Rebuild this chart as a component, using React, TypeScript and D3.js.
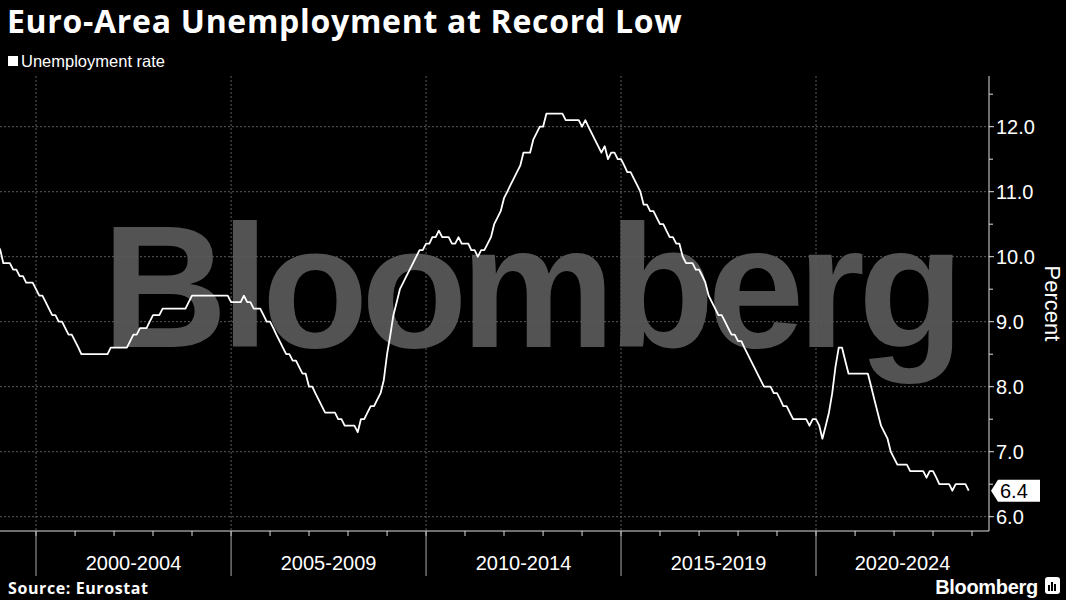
import React from "react";
import * as d3 from "d3";

// Monthly euro-area unemployment rate (%), starting January 1999
const seriesStartYear = 1999;
const unemploymentRate: number[] = [
  10.2, 10.1, 9.9, 9.9, 9.9, 9.8, 9.8, 9.7, 9.7, 9.6, 9.6, 9.6, // 1999
  9.5, 9.4, 9.4, 9.3, 9.2, 9.1, 9.1, 9.0, 9.0, 8.9, 8.8, 8.8, // 2000
  8.7, 8.6, 8.5, 8.5, 8.5, 8.5, 8.5, 8.5, 8.5, 8.5, 8.5, 8.6, // 2001
  8.6, 8.6, 8.6, 8.6, 8.6, 8.7, 8.8, 8.8, 8.9, 8.9, 8.9, 9.0, // 2002
  9.1, 9.1, 9.1, 9.2, 9.2, 9.2, 9.2, 9.2, 9.2, 9.2, 9.2, 9.3, // 2003
  9.4, 9.4, 9.4, 9.4, 9.4, 9.4, 9.4, 9.4, 9.4, 9.4, 9.4, 9.4, // 2004
  9.3, 9.3, 9.3, 9.3, 9.4, 9.3, 9.3, 9.2, 9.2, 9.2, 9.1, 9.0, // 2005
  9.0, 8.9, 8.8, 8.7, 8.6, 8.5, 8.5, 8.4, 8.4, 8.3, 8.2, 8.2, // 2006
  8.0, 8.0, 7.9, 7.8, 7.7, 7.6, 7.6, 7.6, 7.6, 7.5, 7.5, 7.4, // 2007
  7.4, 7.4, 7.4, 7.3, 7.5, 7.5, 7.6, 7.7, 7.7, 7.8, 7.9, 8.1, // 2008
  8.5, 8.8, 9.1, 9.3, 9.5, 9.6, 9.7, 9.8, 9.9, 10.0, 10.1, 10.1, // 2009
  10.2, 10.2, 10.3, 10.3, 10.4, 10.3, 10.3, 10.3, 10.2, 10.2, 10.3, 10.2, // 2010
  10.2, 10.2, 10.1, 10.1, 10.0, 10.1, 10.1, 10.2, 10.3, 10.5, 10.6, 10.7, // 2011
  10.9, 11.0, 11.1, 11.2, 11.3, 11.4, 11.6, 11.6, 11.6, 11.8, 11.9, 12.0, // 2012
  12.0, 12.2, 12.2, 12.2, 12.2, 12.2, 12.2, 12.1, 12.1, 12.1, 12.1, 12.1, // 2013
  12.0, 12.1, 12.0, 11.9, 11.8, 11.7, 11.6, 11.7, 11.5, 11.6, 11.6, 11.5, // 2014
  11.5, 11.4, 11.3, 11.3, 11.2, 11.1, 11.0, 10.8, 10.8, 10.7, 10.7, 10.6, // 2015
  10.5, 10.5, 10.4, 10.3, 10.3, 10.2, 10.2, 10.0, 9.9, 9.9, 9.9, 9.8, // 2016
  9.8, 9.7, 9.6, 9.4, 9.3, 9.2, 9.1, 9.1, 9.0, 8.9, 8.8, 8.8, // 2017
  8.7, 8.7, 8.6, 8.5, 8.4, 8.3, 8.2, 8.1, 8.0, 8.0, 8.0, 7.9, // 2018
  7.9, 7.8, 7.7, 7.7, 7.6, 7.5, 7.5, 7.5, 7.5, 7.5, 7.4, 7.5, // 2019
  7.5, 7.4, 7.2, 7.4, 7.6, 7.9, 8.3, 8.6, 8.6, 8.4, 8.2, 8.2, // 2020
  8.2, 8.2, 8.2, 8.2, 8.2, 8.0, 7.8, 7.6, 7.4, 7.3, 7.2, 7.0, // 2021
  6.9, 6.8, 6.8, 6.8, 6.8, 6.7, 6.7, 6.7, 6.7, 6.7, 6.6, 6.7, // 2022
  6.7, 6.6, 6.5, 6.5, 6.5, 6.5, 6.4, 6.5, 6.5, 6.5, 6.5, 6.4, // 2023
];

const yTickValues = [6, 7, 8, 9, 10, 11, 12];
const yMinorTickValues = [6.5, 7.5, 8.5, 9.5, 10.5, 11.5, 12.5];
const groupStartYears = [2000, 2005, 2010, 2015, 2020];
const groupLabels = ["2000-2004", "2005-2009", "2010-2014", "2015-2019", "2020-2024"];
const yearTickYears = d3.range(2000, 2025);

const title = "Euro-Area Unemployment at Record Low";
const legendLabel = "Unemployment rate";
const yAxisTitle = "Percent";
const sourceText = "Source: Eurostat";
const watermark = "Bloomberg";

const W = 1066;
const H = 600;
const axisX = 989;
const plotTop = 76;
const axisY = 531;
const gridColor = "#5c5c5c";
const fontFamily = "'Liberation Sans', Arial, sans-serif";
const headFont = "'Open Sans', 'Liberation Sans', sans-serif";

export default function App() {
  const x = d3
    .scaleTime()
    .domain([new Date(2000, 0, 1), new Date(2020, 0, 1)])
    .range([36, 816]);
  const y = d3.scaleLinear().domain([6, 12]).range([516.7, 126.7]);

  const data = unemploymentRate.map((v, i) => ({
    date: new Date(seriesStartYear, i, 1),
    v,
  }));
  const line = d3
    .line<{ date: Date; v: number }>()
    .x((d) => x(d.date))
    .y((d) => y(d.v));

  const last = data[data.length - 1];
  const lastY = y(last.v);

  const groupX = groupStartYears.map((yr) => x(new Date(yr, 0, 1)));

  return (
    <div style={{ position: "fixed", left: 0, top: 0 }}>
      <svg width={W} height={H} style={{ display: "block", background: "#000" }}>
        <rect x={0} y={0} width={W} height={H} fill="#000" />
        {/* watermark */}
        <text
          x={102}
          y={347}
          fill="#535353"
          fontFamily={fontFamily}
          fontWeight="bold"
          fontSize={174}
          letterSpacing={-7}
        >
          {watermark}
        </text>

        {/* horizontal gridlines */}
        {yTickValues.map((t) => (
          <line
            key={"hg" + t}
            x1={0}
            x2={axisX}
            y1={y(t)}
            y2={y(t)}
            stroke={gridColor}
            strokeWidth={1}
            strokeDasharray="2,2"
          />
        ))}
        {/* vertical gridlines */}
        {groupX.map((gx, i) => (
          <line
            key={"vg" + i}
            x1={gx}
            x2={gx}
            y1={plotTop}
            y2={axisY}
            stroke={gridColor}
            strokeWidth={1}
            strokeDasharray="2,2"
          />
        ))}

        {/* series line */}
        <path d={line(data) || ""} fill="none" stroke="#fff" strokeWidth={1.8} strokeLinejoin="round" />

        {/* y axis */}
        <line x1={axisX} x2={axisX} y1={plotTop} y2={axisY} stroke="#ddd" strokeWidth={1} />
        {yTickValues.map((t) => (
          <g key={"yt" + t}>
            <line x1={axisX} x2={axisX + 5} y1={y(t)} y2={y(t)} stroke="#ddd" />
            <text
              x={axisX + 7}
              y={y(t)}
              dy="0.35em"
              fill="#fff"
              fontFamily={fontFamily}
              fontSize={20}
            >
              {t.toFixed(1)}
            </text>
          </g>
        ))}
        {yMinorTickValues.map((t) => (
          <line key={"ym" + t} x1={axisX} x2={axisX + 4} y1={y(t)} y2={y(t)} stroke="#ddd" />
        ))}
        <text
          transform={`translate(1045, ${(plotTop + axisY) / 2}) rotate(90)`}
          textAnchor="middle"
          fill="#fff"
          fontFamily={fontFamily}
          fontSize={22}
        >
          {yAxisTitle}
        </text>

        {/* last value label */}
        <path
          d={`M${axisX + 2},${lastY} L${axisX + 9},${lastY - 11} L1040,${lastY - 11} L1040,${lastY + 11} L${axisX + 9},${lastY + 11} Z`}
          fill="#fff"
        />
        <text
          x={axisX + 11}
          y={lastY}
          dy="0.36em"
          fill="#000"
          fontFamily={fontFamily}
          fontSize={20}
        >
          {last.v.toFixed(1)}
        </text>

        {/* x axis */}
        <line x1={0} x2={axisX} y1={axisY} y2={axisY} stroke="#ddd" strokeWidth={1} />
        {yearTickYears.map((yr) => {
          const tx = x(new Date(yr, 0, 1));
          if (tx > axisX) return null;
          return <line key={"xt" + yr} x1={tx} x2={tx} y1={axisY} y2={axisY + 5} stroke="#ddd" />;
        })}
        {groupX.map((gx, i) => (
          <line key={"xs" + i} x1={gx} x2={gx} y1={axisY} y2={576} stroke="#aaa" strokeWidth={1} />
        ))}
        {groupLabels.map((lab, i) => {
          const x0 = groupX[i];
          const x1 = Math.min(i + 1 < groupX.length ? groupX[i + 1] : x(new Date(2025, 0, 1)), axisX);
          return (
            <text
              key={lab}
              x={(x0 + x1) / 2}
              y={570}
              textAnchor="middle"
              fill="#fff"
              fontFamily={fontFamily}
              fontSize={20}
            >
              {lab}
            </text>
          );
        })}

        {/* title & legend */}
        <text x={7} y={33} fill="#fff" fontFamily={headFont} fontWeight="bold" fontSize={32} letterSpacing={0.7}>
          {title}
        </text>
        <rect x={8} y={56} width={10} height={10} fill="#fff" />
        <text x={21} y={67} fill="#fff" fontFamily={fontFamily} fontSize={16.5}>
          {legendLabel}
        </text>

        {/* footer */}
        <text x={8} y={594} fill="#fff" fontFamily={headFont} fontWeight="bold" fontSize={16} letterSpacing={0.6}>
          {sourceText}
        </text>
        <text
          x={1038}
          y={594}
          textAnchor="end"
          fill="#fff"
          fontFamily={fontFamily}
          fontWeight="bold"
          fontSize={20}
          letterSpacing={-0.3}
        >
          {watermark}
        </text>
        <rect x={1045} y={577} width={15} height={17} rx={3} fill="#fff" />
        <rect x={1048} y={585} width={2} height={6} fill="#000" />
        <rect x={1051} y={582} width={2} height={9} fill="#000" />
        <rect x={1054} y={584} width={2} height={7} fill="#000" />
      </svg>
    </div>
  );
}
